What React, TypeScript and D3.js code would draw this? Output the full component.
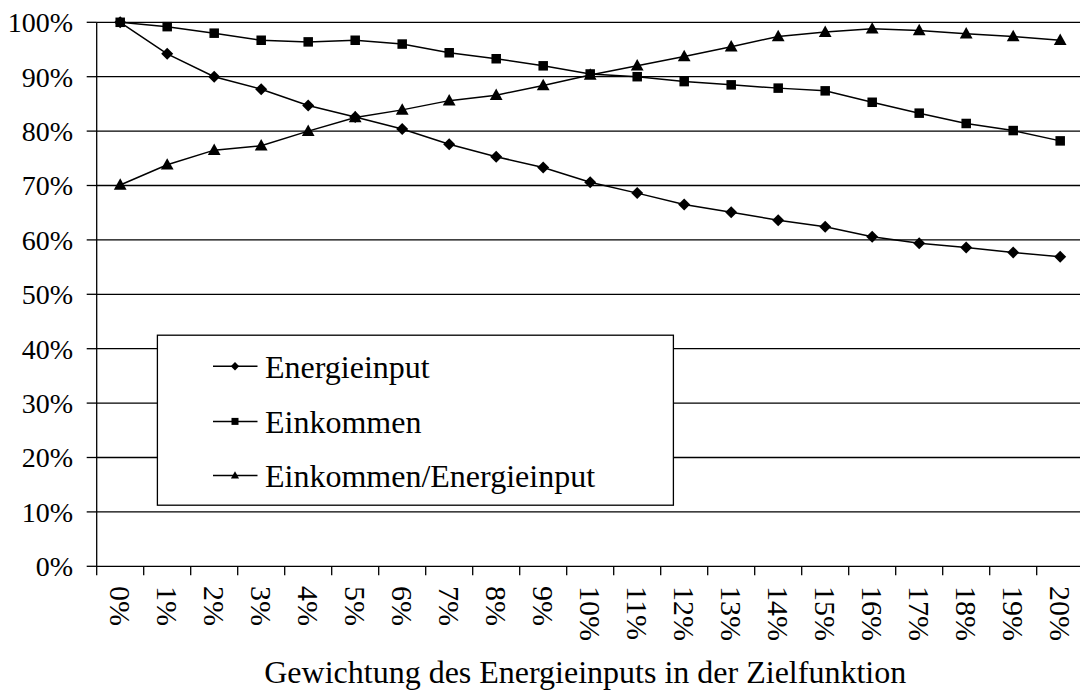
import React from "react";
import * as d3 from "d3";

const categories = ["0%","1%","2%","3%","4%","5%","6%","7%","8%","9%","10%","11%","12%","13%","14%","15%","16%","17%","18%","19%","20%"];
const energieinput = [100, 94.2, 90.0, 87.7, 84.7, 82.6, 80.4, 77.6, 75.3, 73.3, 70.6, 68.6, 66.5, 65.1, 63.6, 62.4, 60.6, 59.4, 58.6, 57.7, 56.9];
const einkommen = [100, 99.2, 98.0, 96.7, 96.4, 96.7, 96.0, 94.4, 93.3, 92.0, 90.5, 90.0, 89.1, 88.5, 87.9, 87.4, 85.3, 83.3, 81.4, 80.1, 78.2];
const verhaeltnis = [70.1, 73.8, 76.5, 77.3, 80.0, 82.5, 83.9, 85.6, 86.6, 88.4, 90.3, 92.0, 93.7, 95.5, 97.4, 98.2, 98.8, 98.5, 97.9, 97.4, 96.7];
const yTicks = [0, 10, 20, 30, 40, 50, 60, 70, 80, 90, 100];
const seriesNames = ["Energieinput", "Einkommen", "Einkommen/Energieinput"];
const xTitle = "Gewichtung des Energieinputs in der Zielfunktion";

const W = 1080, H = 695;
const left = 96.7, right = 1083.7, top = 22.3, bottom = 566.3;
const FONT = '"Liberation Serif", "DejaVu Serif", serif';
const txt = { fontFamily: FONT, fill: "#000" };

function marker(kind: string, x: number, y: number, s: number, key?: any) {
  if (kind === "diamond") {
    const r = s * 0.6;
    return <path key={key} d={`M${x},${y - r}L${x + r},${y}L${x},${y + r}L${x - r},${y}Z`} fill="#000" />;
  }
  if (kind === "square") {
    const r = s / 2;
    return <rect key={key} x={x - r} y={y - r} width={s} height={s} fill="#000" />;
  }
  const r = s * 0.58;
  return <path key={key} d={`M${x},${y - r * 1.05}L${x + r},${y + r * 0.75}L${x - r},${y + r * 0.75}Z`} fill="#000" />;
}

export default function App() {
  const x = d3.scaleBand<string>().domain(categories).range([left, right]).padding(0);
  const y = d3.scaleLinear().domain([0, 100]).range([bottom, top]);
  const cx = (c: string) => (x(c) as number) + x.bandwidth() / 2;
  const line = d3.line<number>().x((_, i) => cx(categories[i])).y((v) => y(v));
  const series = [
    { name: seriesNames[0], data: energieinput, kind: "diamond", size: 10 },
    { name: seriesNames[1], data: einkommen, kind: "square", size: 9.5 },
    { name: seriesNames[2], data: verhaeltnis, kind: "triangle", size: 11 },
  ];
  const boundaries = categories.map((c) => x(c) as number);
  const legend = { x: 157.4, y: 335.2, w: 516, h: 170 };
  const legendRows = [366.3, 421.4, 475.5];

  return (
    <svg width={W} height={H} style={{ position: "absolute", left: 0, top: 0, background: "#fff" }}>
      <rect x={0} y={0} width={W} height={H} fill="#fff" />
      {yTicks.map((t) => (
        <g key={t}>
          <line x1={left} x2={right} y1={y(t)} y2={y(t)} stroke="#000" strokeWidth={1.3} />
          <line x1={left - 10} x2={left} y1={y(t)} y2={y(t)} stroke="#000" strokeWidth={1.3} />
          <text x={73} y={y(t)} dy="0.35em" textAnchor="end" fontSize={28} style={txt}>{t}%</text>
        </g>
      ))}
      <line x1={left} x2={left} y1={top} y2={bottom} stroke="#000" strokeWidth={1.3} />
      {boundaries.map((b, i) => (
        <line key={i} x1={b} x2={b} y1={bottom} y2={bottom + 9} stroke="#000" strokeWidth={1.3} />
      ))}
      {categories.map((c) => (
        <text key={c} transform={`translate(${cx(c)},586) rotate(90)`} dy="0.35em" textAnchor="start" fontSize={30} style={txt}>{c}</text>
      ))}
      <text x={(left + right) / 2 - 5} y={683} textAnchor="middle" fontSize={32} style={txt}>{xTitle}</text>
      {series.map((s) => (
        <g key={s.name}>
          <path d={line(s.data) || ""} fill="none" stroke="#000" strokeWidth={1.5} />
          {s.data.map((v, i) => marker(s.kind, cx(categories[i]), y(v), s.size, i))}
        </g>
      ))}
      <rect x={legend.x} y={legend.y} width={legend.w} height={legend.h} fill="#fff" stroke="#000" strokeWidth={1.3} />
      {series.map((s, i) => (
        <g key={s.name}>
          <line x1={213} x2={257.5} y1={legendRows[i]} y2={legendRows[i]} stroke="#000" strokeWidth={1.5} />
          {marker(s.kind, 235, legendRows[i], 7)}
          <text x={265} y={legendRows[i]} dy="0.35em" fontSize={32} style={txt}>{s.name}</text>
        </g>
      ))}
    </svg>
  );
}
